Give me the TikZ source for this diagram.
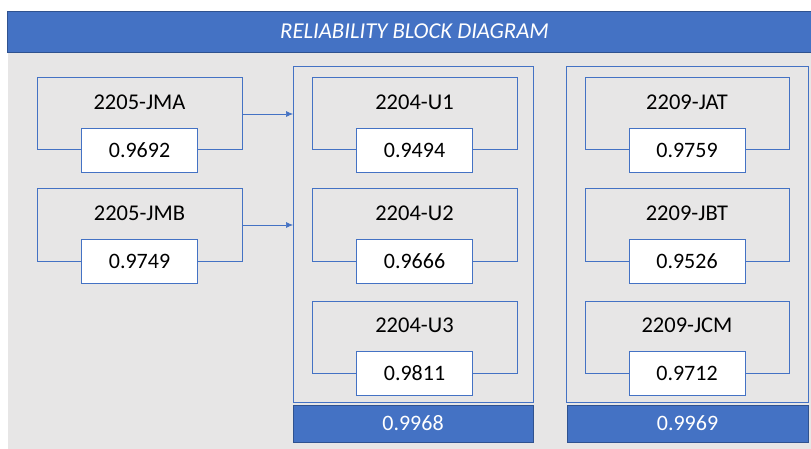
\documentclass[tikz,border=0pt]{standalone}
\usepackage{fontspec}
\setmainfont{Carlito}
\usetikzlibrary{arrows.meta,positioning}
\definecolor{rbdblue}{HTML}{4472C4}
\definecolor{rbdedge}{HTML}{2F528F}
\definecolor{rbdgray}{HTML}{E7E6E6}

\begin{document}
\begin{tikzpicture}[x=1pt, y=-1pt,
  unit/.style={draw=rbdblue, line width=1pt, minimum width=205pt, minimum height=72pt, inner sep=0pt},
  tag/.style={font=\fontsize{22.5}{26}\selectfont, inner sep=0pt},
  val/.style={draw=rbdblue, line width=1pt, fill=white, minimum width=116pt, minimum height=44pt, inner sep=0pt, font=\fontsize{22}{26}\selectfont},
  group/.style={draw=rbdblue, line width=1pt, minimum width=240pt, minimum height=335pt, inner sep=0pt},
  total/.style={draw=rbdedge, line width=0.8pt, fill=rbdblue, text=white, minimum height=37pt, inner sep=0pt, font=\fontsize{22}{26}\selectfont},
  arr/.style={-{Latex[length=7pt,width=6pt]}, draw=rbdblue, line width=0.7pt}]
\useasboundingbox (0,0) rectangle (811,449);
\fill[rbdgray] (8,52) rectangle (811,449);
\node[draw=rbdedge, line width=0.8pt, fill=rbdblue, minimum width=804pt, minimum height=41pt, inner sep=0pt] (head) at (409,31.5) {};
\node[text=white, inner sep=0pt, font=\fontsize{22.7}{27}\selectfont\itshape] (headL) at ([xshift=5.5pt]head.center) {RELIABILITY BLOCK DIAGRAM};

% containers
\node[group] (mid) at (413.5,234.5) {};
\node[group, minimum width=242pt] (rgt) at (687,234.5) {};
\node[total, minimum width=240pt] (midT) at (413,423.5) {0.9968};
\node[total, minimum width=241pt] (rgtT) at (687.5,423.5) {0.9969};

% left column
\node[unit] (jma) at (139.5,114) {};
\node[tag] (jmaL) at ([yshift=12pt]jma.center) {2205-JMA};
\node[val] (jmaV) at (jma.south) {0.9692};
\node[unit] (jmb) at (139.5,225) {};
\node[tag] (jmbL) at ([yshift=12pt]jmb.center) {2205-JMB};
\node[val] (jmbV) at (jmb.south) {0.9749};

% middle column
\node[unit] (u1) at (414.5,114) {};
\node[tag] (u1L) at ([yshift=12pt]u1.center) {2204-U1};
\node[val] (u1V) at (u1.south) {0.9494};
\node[unit] (u2) at (414.5,225) {};
\node[tag] (u2L) at ([yshift=12pt]u2.center) {2204-U2};
\node[val] (u2V) at (u2.south) {0.9666};
\node[unit] (u3) at (414.5,337) {};
\node[tag] (u3L) at ([yshift=12pt]u3.center) {2204-U3};
\node[val] (u3V) at (u3.south) {0.9811};

% right column
\node[unit, minimum width=204pt] (jat) at (687,114) {};
\node[tag] (jatL) at ([yshift=12pt]jat.center) {2209-JAT};
\node[val] (jatV) at (jat.south) {0.9759};
\node[unit, minimum width=204pt] (jbt) at (687,225) {};
\node[tag] (jbtL) at ([yshift=12pt]jbt.center) {2209-JBT};
\node[val] (jbtV) at (jbt.south) {0.9526};
\node[unit, minimum width=204pt] (jcm) at (687,337) {};
\node[tag] (jcmL) at ([yshift=12pt]jcm.center) {2209-JCM};
\node[val] (jcmV) at (jcm.south) {0.9712};

\draw[arr] (jma.east) -- (jma.east -| mid.west);
\draw[arr] (jmb.east) -- (jmb.east -| mid.west);
\end{tikzpicture}
\end{document}
